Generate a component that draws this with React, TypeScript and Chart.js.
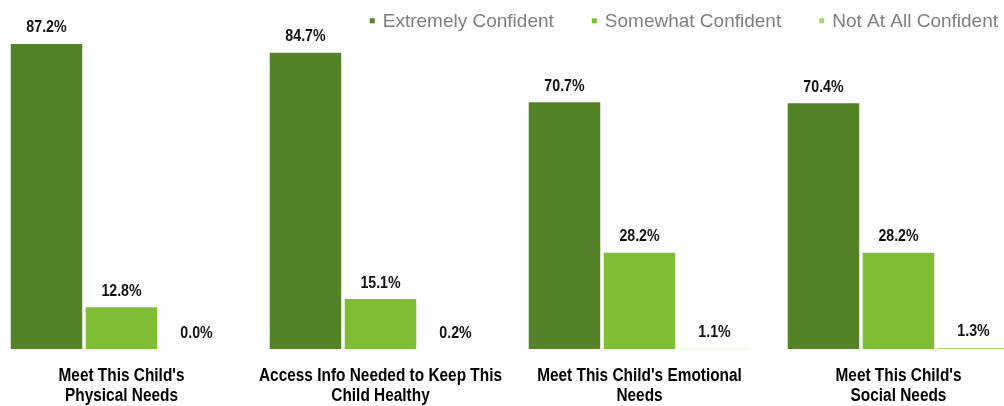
import React, { useEffect, useRef } from 'react';
import { Chart, registerables } from 'chart.js';

Chart.register(...registerables);

const categories: string[][] = [
  ["Meet This Child's", 'Physical Needs'],
  ['Access Info Needed to Keep This', 'Child Healthy'],
  ["Meet This Child's Emotional", 'Needs'],
  ["Meet This Child's", 'Social Needs'],
];
const seriesNames = ['Extremely Confident', 'Somewhat Confident', 'Not At All Confident'];
const extremelyConfident = [87.2, 84.7, 70.7, 70.4];
const somewhatConfident = [12.8, 15.1, 28.2, 28.2];
const notAtAllConfident = [0.0, 0.2, 1.1, 1.3];
const seriesColors = ['#548226', '#7fbe34', '#a8d46c'];
const yMin = 1.0;
const yMax = 99.6;

const BOLD = "'Liberation Sans', Arial, sans-serif";
const REGULAR = "'Liberation Sans', Arial, sans-serif";
const OFFSET = 8;

function drawCondensed(ctx: any, text: string, x: number, y: number, sx: number) {
  ctx.save();
  ctx.translate(x, y);
  ctx.scale(sx, 1);
  ctx.fillText(text, 0, 0);
  ctx.restore();
}

export default function App() {
  const ref = useRef<HTMLCanvasElement>(null);

  useEffect(() => {
    if (!ref.current) return;

    const legendPlugin = {
      id: 'customLegend',
      afterDraw(chart: any) {
        const ctx = chart.ctx;
        ctx.save();
        ctx.font = `19px ${REGULAR}`;
        ctx.textBaseline = 'alphabetic';
        ctx.textAlign = 'left';
        let x = 998 + OFFSET;
        for (let i = seriesNames.length - 1; i >= 0; i--) {
          const w = ctx.measureText(seriesNames[i]).width;
          x -= w;
          ctx.fillStyle = '#7f7f7f';
          ctx.fillText(seriesNames[i], x, 26.7);
          ctx.fillStyle = seriesColors[i];
          ctx.fillRect(x - 13, 18.3, 5, 5);
          x -= 13 + 38;
        }
        ctx.restore();
      },
    };

    const labelPlugin = {
      id: 'condensedLabels',
      afterDatasetsDraw(chart: any) {
        const ctx = chart.ctx;
        const bottom = chart.chartArea.bottom;
        ctx.save();
        ctx.fillStyle = '#111111';
        ctx.textAlign = 'center';
        ctx.textBaseline = 'alphabetic';
        ctx.font = `bold 16.5px ${BOLD}`;
        chart.data.datasets.forEach((ds: any, i: number) => {
          const meta = chart.getDatasetMeta(i);
          meta.data.forEach((el: any, j: number) => {
            const v = ds.data[j] as number;
            const y = Math.min(el.y, bottom);
            drawCondensed(ctx, v.toFixed(1) + '%', el.x, y - 11.5, 0.86);
          });
        });
        const xScale = chart.scales.x;
        ctx.font = `bold 17.5px ${BOLD}`;
        ctx.fillStyle = '#000000';
        (chart.data.labels as string[][]).forEach((lines, i) => {
          const cx = xScale.getPixelForValue(i);
          lines.forEach((line, k) => {
            drawCondensed(ctx, line, cx, 381 + k * 20, 0.88);
          });
        });
        ctx.restore();
      },
    };

    const data = [extremelyConfident, somewhatConfident, notAtAllConfident];
    const chart = new Chart(ref.current, {
      type: 'bar',
      data: {
        labels: categories,
        datasets: seriesNames.map((name, i) => ({
          label: name,
          data: data[i],
          backgroundColor: seriesColors[i],
          borderWidth: 0,
          barPercentage: 0.953,
          categoryPercentage: 0.869,
        })),
      },
      options: {
        animation: false,
        responsive: false,
        devicePixelRatio: 1,
        layout: { padding: 0 },
        plugins: {
          legend: { display: false },
          tooltip: { enabled: false },
        },
        scales: {
          x: {
            grid: { display: false, drawTicks: false },
            border: { display: false },
            ticks: { display: false },
            afterFit(scale: any) {
              scale.height = 57;
            },
          },
          y: {
            display: false,
            min: yMin,
            max: yMax,
          },
        },
      },
      plugins: [legendPlugin, labelPlugin],
    });
    return () => chart.destroy();
  }, []);

  return (
    <div
      style={{
        position: 'fixed',
        left: 0,
        top: 0,
        width: 1004,
        height: 406,
        overflow: 'hidden',
        background: '#ffffff',
      }}
    >
      <canvas
        ref={ref}
        width={1036}
        height={406}
        style={{ position: 'absolute', left: -OFFSET, top: 0, width: 1036, height: 406 }}
      />
    </div>
  );
}
